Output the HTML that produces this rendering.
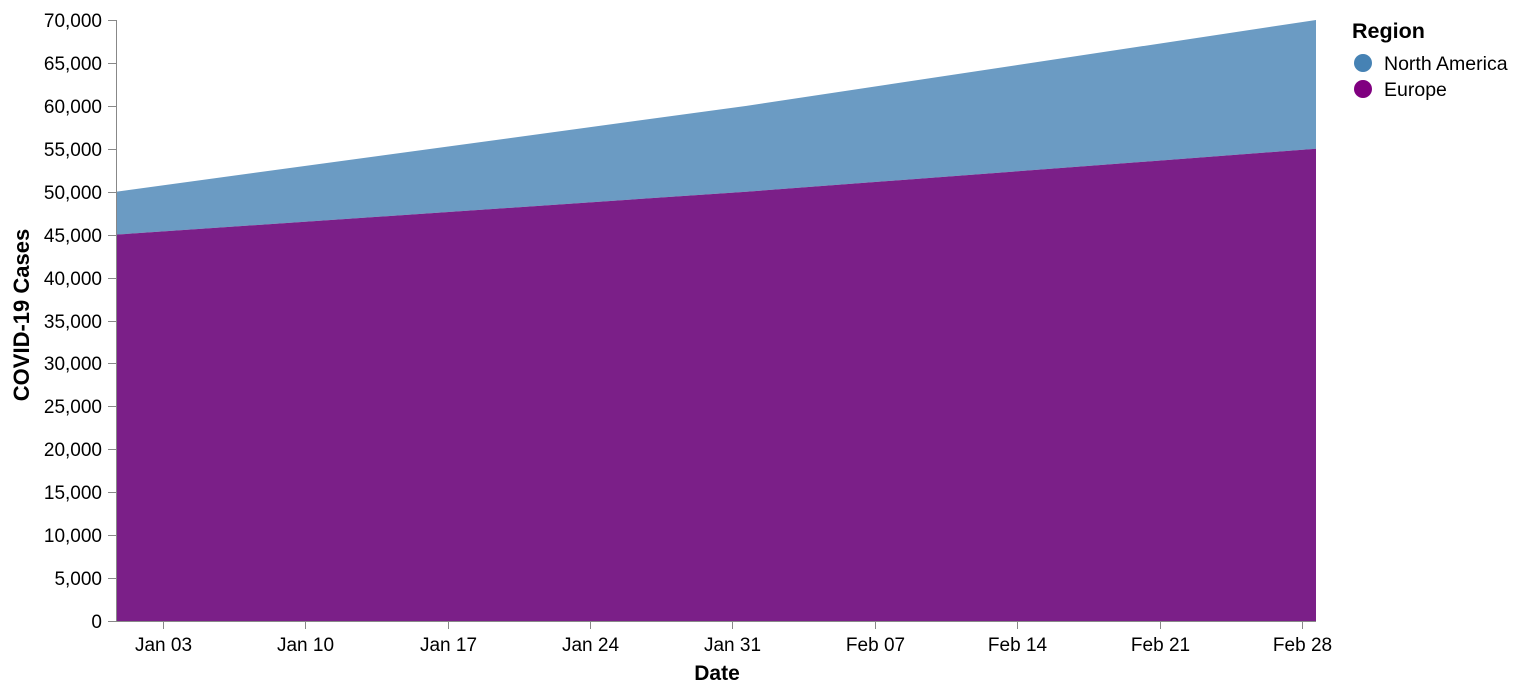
<!DOCTYPE html>
<html><head><meta charset="utf-8"><style>
body{margin:0;background:#fff;font-family:"Liberation Sans",Arial,sans-serif;}
svg text{font-family:"Liberation Sans",Arial,sans-serif;}
</style></head><body>
<svg id="chart" width="1522" height="694" xmlns="http://www.w3.org/2000/svg">
<g id="areas"></g>
<g id="yaxis"></g>
<g id="xaxis"></g>
<text transform="translate(29,315) rotate(-90)" text-anchor="middle" font-size="22" font-weight="bold" fill="#000">COVID-19 Cases</text>
<text x="717" y="680" text-anchor="middle" font-size="21" font-weight="bold" fill="#000">Date</text>
<g>
<text x="1352" y="38" font-size="21.5" font-weight="bold" fill="#000">Region</text>
<g><circle cx="1363" cy="63" r="9" fill="#4682b4"/><text x="1384" y="70" font-size="19.5" fill="#000">North America</text></g>
<g><circle cx="1363" cy="89" r="9" fill="#800080"/><text x="1384" y="96" font-size="19.5" fill="#000">Europe</text></g>
</g>
</svg>
<script>
const dayOffsets = [0, 31, 59]; // Jan 1, Feb 1, Mar 1
const europe = [45000, 50000, 55000];
const northAmerica = [5000, 10000, 15000];
const yTicks = [0,5000,10000,15000,20000,25000,30000,35000,40000,45000,50000,55000,60000,65000,70000];
const xTickDays = [2, 9, 16, 23, 30, 37, 44, 51, 58];
const xTickLabels = ["Jan 03","Jan 10","Jan 17","Jan 24","Jan 31","Feb 07","Feb 14","Feb 21","Feb 28"];

(function(){
const NS="http://www.w3.org/2000/svg";
const X0=116,X1=1316,Y0=621,Y1=20;
const x=d=>X0+(d-dayOffsets[0])/(dayOffsets[dayOffsets.length-1]-dayOffsets[0])*(X1-X0);
const xt=d=>x(d+0.31);
const y=v=>Y0-v/70000*(Y0-Y1);
function mk(t,a,p){const e=document.createElementNS(NS,t);for(const k in a)e.setAttribute(k,a[k]);p.appendChild(e);return e;}
const areas=document.getElementById('areas');
const n=dayOffsets.length;
const eu="M"+dayOffsets.map((d,i)=>x(d)+","+y(europe[i])).join("L")+"L"+x(dayOffsets[n-1])+","+y(0)+"L"+x(dayOffsets[0])+","+y(0)+"Z";
const topPts=dayOffsets.map((d,i)=>x(d)+","+y(europe[i]+northAmerica[i]));
const botPts=dayOffsets.map((d,i)=>x(d)+","+y(europe[i])).reverse();
const na="M"+topPts.join("L")+"L"+botPts.join("L")+"Z";
const p1=mk('path',{d:na,fill:"#6b9bc3"},areas);


const p2=mk('path',{d:eu,fill:"#7b1f88"},areas);



const ya=document.getElementById('yaxis');
mk('line',{x1:X0+0.5,x2:X0+0.5,y1:Y1,y2:Y0,stroke:"#888"},ya);
yTicks.forEach(v=>{
  const yy=Math.round(y(v))+0.5;
  mk('line',{x1:X0-8,x2:X0,y1:yy,y2:yy,stroke:"#888"},ya);
  const t=mk('text',{x:X0-14,y:yy+6.5,"text-anchor":"end","font-size":"19",fill:"#000"},ya);
  t.textContent=v.toLocaleString('en-US');
  
  
});
const xa=document.getElementById('xaxis');
mk('line',{x1:X0,x2:X1,y1:Y0+0.5,y2:Y0+0.5,stroke:"#888"},xa);
xTickDays.forEach((d,i)=>{
  const xx=Math.round(xt(d))+0.5;
  mk('line',{x1:xx,x2:xx,y1:Y0,y2:Y0+8,stroke:"#888"},xa);
  const t=mk('text',{x:xx,y:Y0+30,"text-anchor":"middle","font-size":"19",fill:"#000"},xa);
  t.textContent=xTickLabels[i];
  
  
});
})();
</script>
</body></html>
